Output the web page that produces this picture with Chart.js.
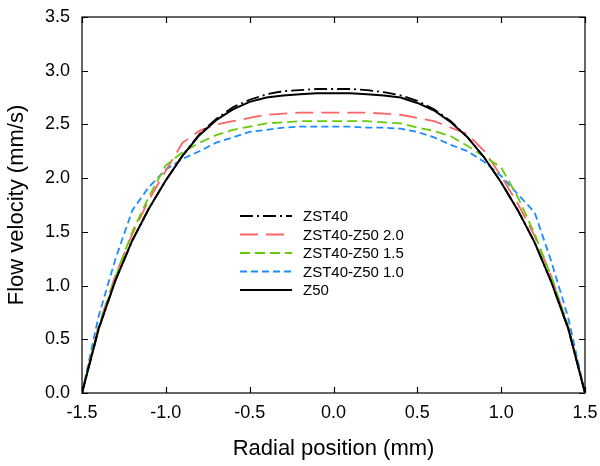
<!DOCTYPE html>
<html>
<head>
<meta charset="utf-8">
<script src="https://cdn.jsdelivr.net/npm/chart.js@4.4.1/dist/chart.umd.min.js"></script>
<style>
  html, body { margin: 0; padding: 0; background: #fff; }
  #wrap { width: 600px; height: 466px; position: relative; }
</style>
</head>
<body>
<div id="wrap"><canvas id="c" width="600" height="466"></canvas></div>
<script>
const radialPositions = [-1.5,-1.4,-1.3,-1.2,-1.1,-1.0,-0.9,-0.8,-0.7,-0.6,-0.5,-0.4,-0.3,-0.2,-0.1,0,0.1,0.2,0.3,0.4,0.5,0.6,0.7,0.8,0.9,1.0,1.1,1.2,1.3,1.4,1.5];
const zst40    = [0,0.60,1.05,1.42,1.72,1.98,2.21,2.41,2.55,2.66,2.73,2.78,2.81,2.82,2.83,2.83,2.83,2.82,2.80,2.77,2.72,2.64,2.53,2.38,2.19,1.96,1.70,1.40,1.03,0.60,0];
const zst40z50_20 = [0,0.63,1.10,1.48,1.80,2.07,2.33,2.44,2.50,2.53,2.56,2.59,2.60,2.61,2.61,2.61,2.61,2.61,2.60,2.59,2.56,2.53,2.47,2.41,2.25,2.02,1.76,1.46,1.08,0.62,0];
const zst40z50_15 = [0,0.62,1.08,1.50,1.83,2.12,2.24,2.33,2.40,2.45,2.48,2.51,2.52,2.53,2.53,2.53,2.53,2.53,2.52,2.51,2.47,2.44,2.39,2.30,2.20,2.10,1.82,1.48,1.08,0.62,0];
const zst40z50_10 = [0,0.72,1.25,1.70,1.92,2.08,2.18,2.25,2.33,2.38,2.43,2.45,2.47,2.48,2.48,2.48,2.48,2.47,2.47,2.46,2.43,2.38,2.31,2.25,2.15,2.02,1.85,1.68,1.22,0.70,0];
const z50      = [0,0.60,1.05,1.42,1.72,1.98,2.21,2.40,2.54,2.64,2.71,2.75,2.77,2.78,2.79,2.79,2.79,2.78,2.77,2.75,2.70,2.63,2.52,2.38,2.19,1.96,1.70,1.40,1.03,0.60,0];

const xTicks = [-1.5,-1.0,-0.5,0.0,0.5,1.0,1.5];
const yTicks = [0.0,0.5,1.0,1.5,2.0,2.5,3.0,3.5];
const seriesNames = ['ZST40','ZST40-Z50 2.0','ZST40-Z50 1.5','ZST40-Z50 1.0','Z50'];

const FONT = '"Liberation Sans", Arial, Helvetica, sans-serif';

function pts(arr) { return radialPositions.map((x, i) => ({ x: x, y: arr[i] })); }

const styles = [
  { color: '#000000', dash: [13, 4, 2, 4], width: 1.8 },
  { color: '#ff6464', dash: [18, 8], width: 1.8 },
  { color: '#66cc0a', dash: [10, 5], width: 1.8 },
  { color: '#1a8cff', dash: [7, 4], width: 1.8 },
  { color: '#000000', dash: [], width: 2 }
];
const values = [zst40, zst40z50_20, zst40z50_15, zst40z50_10, z50];

const datasets = values.map((v, i) => ({
  label: seriesNames[i],
  data: pts(v),
  borderColor: styles[i].color,
  borderDash: styles[i].dash,
  borderWidth: styles[i].width,
  pointRadius: 0,
  showLine: true,
  fill: false,
  tension: 0,
  order: [2, 4, 3, 5, 1][i]
}));

const frame = {
  id: 'frame',
  afterDatasetsDraw(chart) {
    const { ctx, chartArea: a, scales } = chart;
    ctx.save();
    ctx.strokeStyle = '#000';
    ctx.lineWidth = 1.2;
    ctx.setLineDash([]);
    ctx.strokeRect(a.left, a.top, a.right - a.left, a.bottom - a.top);
    const L = 6;
    ctx.beginPath();
    xTicks.forEach(v => {
      const px = Math.round(scales.x.getPixelForValue(v)) + 0.5;
      ctx.moveTo(px, a.bottom); ctx.lineTo(px, a.bottom - L);
      ctx.moveTo(px, a.top); ctx.lineTo(px, a.top + L);
    });
    yTicks.forEach(v => {
      const py = Math.round(scales.y.getPixelForValue(v)) + 0.5;
      ctx.moveTo(a.left, py); ctx.lineTo(a.left + L, py);
      ctx.moveTo(a.right, py); ctx.lineTo(a.right - L, py);
    });
    ctx.stroke();

    // legend
    const lx0 = 240, lx1 = 292, tx = 303, y0 = 216, dy = 18.5;
    ctx.font = '15px ' + FONT;
    ctx.textBaseline = 'middle';
    ctx.textAlign = 'left';
    seriesNames.forEach((name, i) => {
      const y = y0 + i * dy;
      ctx.beginPath();
      ctx.strokeStyle = styles[i].color;
      ctx.lineWidth = styles[i].width;
      ctx.setLineDash(styles[i].dash);
      ctx.moveTo(lx0, y); ctx.lineTo(lx1, y);
      ctx.stroke();
      ctx.setLineDash([]);
      ctx.fillStyle = '#000';
      ctx.fillText(name, tx, y + 1);
    });
    ctx.restore();
  }
};

new Chart(document.getElementById('c'), {
  type: 'scatter',
  data: { datasets: datasets },
  options: {
    responsive: false,
    animation: false,
    devicePixelRatio: 1,
    layout: { padding: { top: 17, right: 15, left: 0, bottom: 0 } },
    plugins: { legend: { display: false }, tooltip: { enabled: false } },
    scales: {
      x: {
        type: 'linear', min: -1.5, max: 1.5,
        afterBuildTicks: s => { s.ticks = xTicks.map(v => ({ value: v })); },
        afterFit: s => { s.height = 73; s.paddingLeft = 0; s.paddingRight = 0; },
        grid: { display: false, drawTicks: false },
        border: { display: false },
        ticks: { color: '#000', padding: 9, font: { family: FONT, size: 18 }, callback: v => Number(v).toFixed(1), maxRotation: 0 },
        title: { display: true, text: 'Radial position (mm)', color: '#000', font: { family: FONT, size: 22 }, padding: { top: 6 } }
      },
      y: {
        type: 'linear', min: 0, max: 3.5,
        afterBuildTicks: s => { s.ticks = yTicks.map(v => ({ value: v })); },
        afterFit: s => { s.width = 82; s.paddingTop = 0; s.paddingBottom = 0; },
        grid: { display: false, drawTicks: false },
        border: { display: false },
        ticks: { color: '#000', padding: 12, font: { family: FONT, size: 18 }, callback: v => Number(v).toFixed(1) },
        title: { display: true, text: 'Flow velocity (mm/s)', color: '#000', font: { family: FONT, size: 22 }, padding: { bottom: 3 } }
      }
    }
  },
  plugins: [frame]
});
</script>
</body>
</html>
